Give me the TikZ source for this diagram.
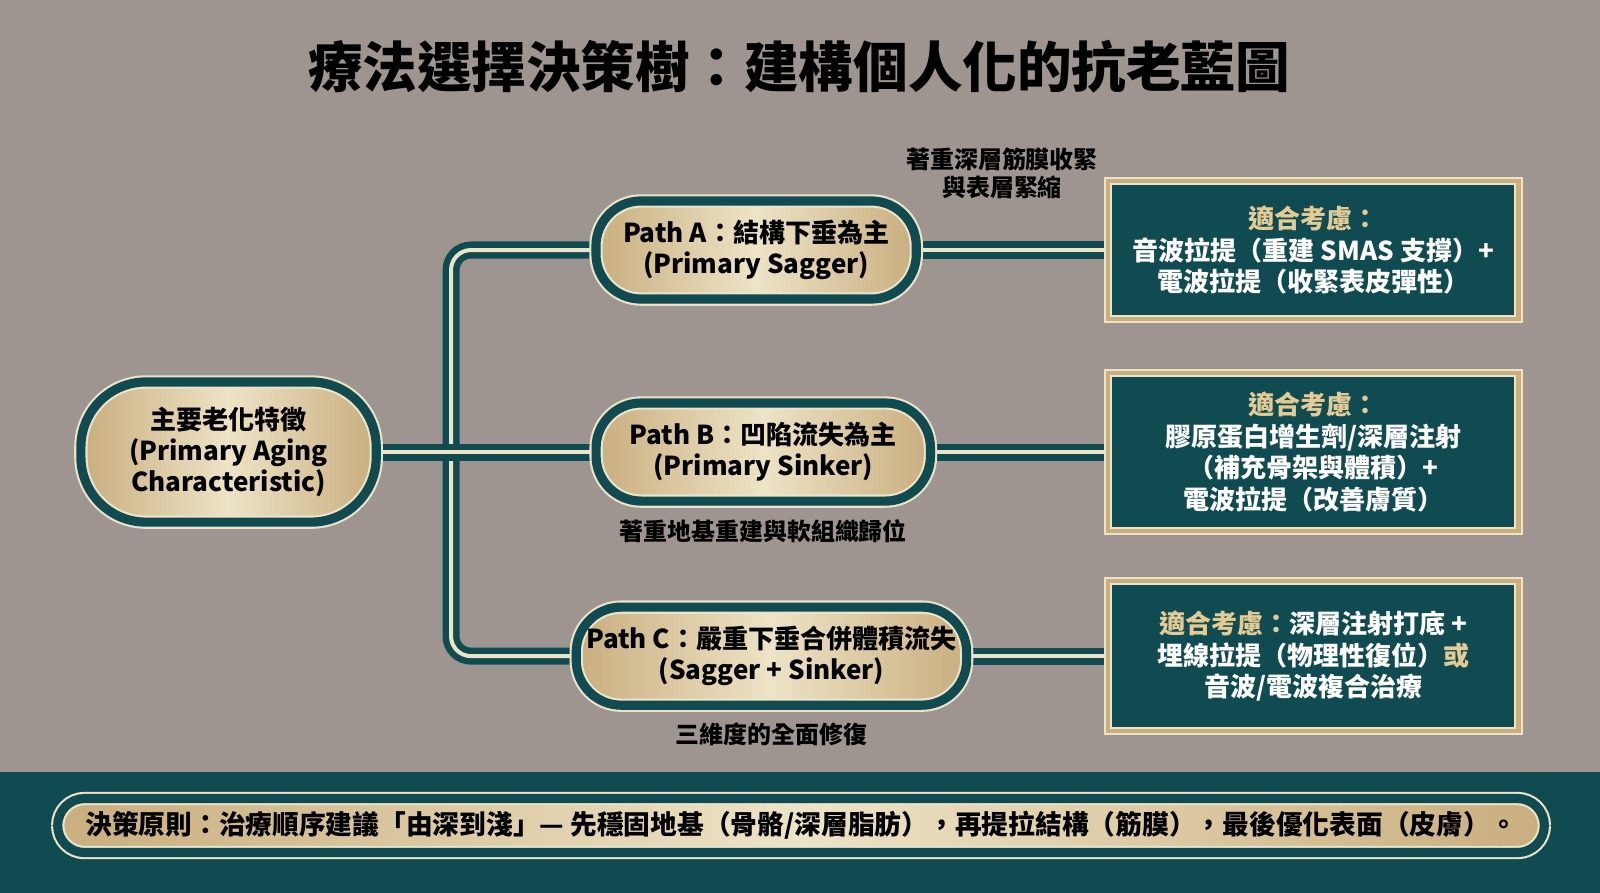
\documentclass[tikz,border=0pt]{standalone}
\usepackage{fontspec}
\setmainfont{Noto Sans CJK TC}
\usetikzlibrary{positioning,backgrounds}
\definecolor{bgtaupe}{HTML}{9F9590}
\definecolor{teal}{HTML}{0F4B51}
\definecolor{cream}{HTML}{EDE3C6}
\definecolor{gold}{HTML}{C9AE7E}
\definecolor{goldtxt}{HTML}{E3CB93}
\tikzset{
  pipe/.style={draw=teal,line width=0.065cm,double=cream,double distance=0.04cm},
  pill/.style={rounded corners=0.45cm,draw=cream,line width=0.6pt,double=teal,double distance=2.6pt,
    left color=gold,right color=gold,middle color=cream,align=center,
    font=\fontsize{7.4}{8.8}\selectfont\bfseries,inner sep=0pt},
  advice/.style={draw=cream,line width=0.6pt,double=gold,double distance=1.2pt,fill=teal,
    minimum width=4.1cm,align=center,text=white,font=\fontsize{7.4}{9}\selectfont\bfseries},
  note/.style={font=\fontsize{6.8}{8}\selectfont\bfseries,align=center}
}
\newcommand{\hl}[1]{\textcolor{goldtxt}{#1}}
\begin{document}
\begin{tikzpicture}[x=0.0102cm,y=-0.0102cm]
\useasboundingbox (0,0) rectangle (1568,875);
% title
\node[font=\fontsize{15.5}{18}\selectfont\bfseries] (title) at (783,65) {療法選擇決策樹：建構個人化的抗老藍圖};
% notes
\node[note] (noteA) at (982,170) {著重深層筋膜收緊\\與表層緊縮};
\node[note] (noteB) at (748,521) {著重地基重建與軟組織歸位};
\node[note] (noteC) at (756,720) {三維度的全面修復};
% tree nodes
\node[pill,rounded corners=0.65cm,minimum width=2.95cm,minimum height=1.4cm] (root) at (224,443)
  {主要老化特徵\\(Primary Aging\\Characteristic)};
\node[pill,minimum width=3.2cm,minimum height=0.98cm] (pathA) at (741,245) {Path A：結構下垂為主\\(Primary Sagger)};
\node[pill,minimum width=3.34cm,minimum height=0.98cm] (pathB) at (748,443) {Path B：凹陷流失為主\\(Primary Sinker)};
\node[pill,minimum width=3.9cm,minimum height=0.98cm] (pathC) at (756,643) {Path C：嚴重下垂合併體積流失\\(Sagger + Sinker)};
\node[advice,minimum height=1.38cm] (boxA) at (1287,245)
  {\hl{適合考慮：}\\音波拉提（重建 SMAS 支撐）+\\電波拉提（收緊表皮彈性）};
\node[advice,minimum height=1.58cm] (boxB) at (1287,443)
  {\hl{適合考慮：}\\膠原蛋白增生劑/深層注射\\（補充骨架與體積）+\\電波拉提（改善膚質）};
\node[advice,minimum height=1.5cm] (boxC) at (1287,643)
  {\hl{適合考慮：}深層注射打底 +\\埋線拉提（物理性復位）\hl{或}\\音波/電波複合治療};
% principle banner
\node[pill,rounded corners=0.27cm,minimum width=14.85cm,minimum height=0.54cm,
  font=\fontsize{7.6}{8}\selectfont\bfseries] (banner) at (785,809)
  {決策原則：治療順序建議「由深到淺」— 先穩固地基（骨骼/深層脂肪），再提拉結構（筋膜），最後優化表面（皮膚）。};
% connectors behind the nodes
\coordinate (trunk) at (442,443);
\begin{scope}[on background layer]
\fill[bgtaupe] (0,0) rectangle (1568,875);
\fill[teal] (0,757) rectangle (1568,875);
\draw[pipe,rounded corners=0.2cm] (pathA.west) -| (trunk) |- (pathC.west);
\draw[pipe] (root.east) -- (pathB.west);
\draw[pipe] (pathA.east) -- (boxA.west);
\draw[pipe] (pathB.east) -- (boxB.west);
\draw[pipe] (pathC.east) -- (boxC.west);
\end{scope}
\end{tikzpicture}
\end{document}
